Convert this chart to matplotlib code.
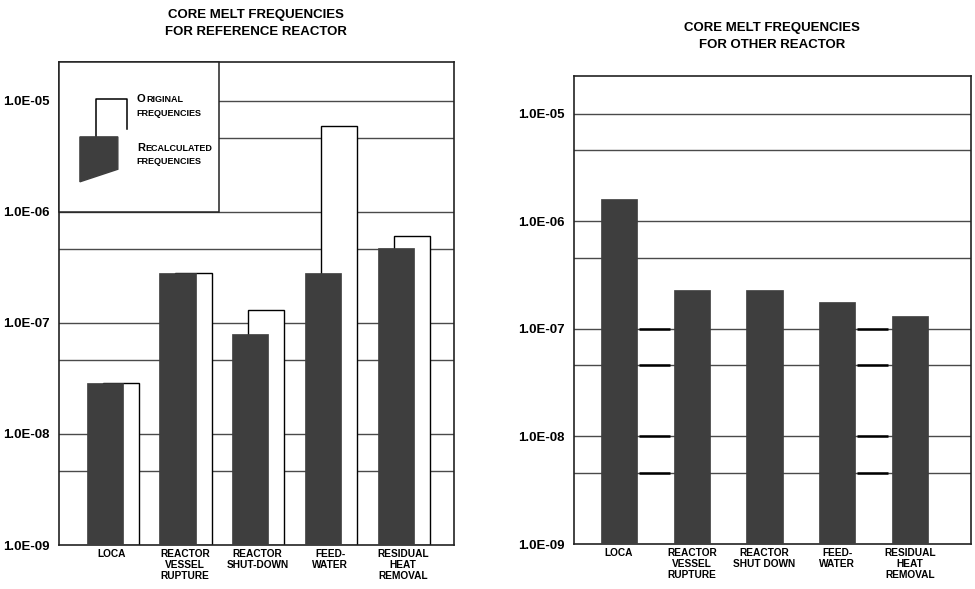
import matplotlib
matplotlib.use("Agg")
import matplotlib.pyplot as plt
import matplotlib.transforms as mtransforms
from matplotlib.patches import Polygon, Rectangle
from matplotlib.ticker import NullLocator
import numpy as np

# -----------------------------
# Data
# -----------------------------
labels_ref = ["LOCA", "REACTOR\nVESSEL\nRUPTURE", "REACTOR\nSHUT-DOWN",
              "FEED-\nWATER", "RESIDUAL\nHEAT\nREMOVAL"]
labels_other = ["LOCA", "REACTOR\nVESSEL\nRUPTURE", "REACTOR\nSHUT DOWN",
                "FEED-\nWATER", "RESIDUAL\nHEAT\nREMOVAL"]

recalculated_ref = [2.75e-8, 2.8e-7, 7.9e-8, 2.8e-7, 4.7e-7]
original_ref = [2.8e-8, 2.8e-7, 1.3e-7, 5.9e-6, 6.0e-7]
other_reactor = [1.6e-6, 2.3e-7, 2.3e-7, 1.75e-7, 1.3e-7]

decade_ticks = [1e-9, 1e-8, 1e-7, 1e-6, 1e-5]
decade_labels = ["1.0E-09", "1.0E-08", "1.0E-07", "1.0E-06", "1.0E-05"]
mid_grid = [4.6e-9, 4.6e-8, 4.6e-7, 4.6e-6]

# -----------------------------
# Style
# -----------------------------
plt.rcParams["font.family"] = ["Liberation Sans", "DejaVu Sans"]
plt.rcParams["font.weight"] = "bold"
DARK = "#3e3e3e"
GRID = "#4a4a4a"
BAR_W = 0.5
OFFSET = 0.22
YTOP = 10 ** -4.65


def setup_axes(ax, labels, tick_shift):
    ax.set_yscale("log")
    ax.set_ylim(1e-9, YTOP)
    ax.set_xlim(-0.63, 4.8)
    ax.yaxis.set_minor_locator(NullLocator())
    ax.set_yticks(decade_ticks)
    ax.set_yticklabels(decade_labels, fontsize=9.5)
    ax.set_xticks(np.arange(len(labels)) + tick_shift)
    ax.set_xticklabels(labels, fontsize=7.3, linespacing=1.1)
    ax.tick_params(axis="y", length=0, pad=7)
    ax.tick_params(axis="x", length=0, pad=3)
    for sp in ax.spines.values():
        sp.set_linewidth(1.2)
        sp.set_color("#222222")
    for g in decade_ticks[1:] + mid_grid:
        ax.axhline(g, color=GRID, lw=1.0, zorder=1)


def small_caps(ax, x, y, word, big=8, small=6.5):
    t = ax.text(x, y, word[0], transform=ax.transAxes, fontsize=big,
                va="bottom", ha="left", zorder=6)
    ax.annotate(word[1:], xy=(1, 0), xycoords=t, xytext=(0.3, 0),
                textcoords="offset points", fontsize=small,
                va="bottom", ha="left", zorder=6)


fig = plt.figure(figsize=(9.75, 5.89), dpi=100)

# -----------------------------
# Left: reference reactor
# -----------------------------
ax1 = fig.add_axes([0.0605, 0.0747, 0.4051, 0.820])
setup_axes(ax1, labels_ref, 0.1)
x = np.arange(len(labels_ref))
ax1.bar(x + OFFSET, original_ref, width=BAR_W, bottom=1e-9, color="white",
        edgecolor="black", linewidth=1.0, zorder=2)
ax1.bar(x, recalculated_ref, width=BAR_W, bottom=1e-9, color=DARK,
        edgecolor=DARK, linewidth=0.5, zorder=3)

# legend box in the upper left corner
blend = mtransforms.blended_transform_factory(ax1.transAxes, ax1.transData)
ax1.add_patch(Rectangle((0, 1e-6), 0.405, YTOP - 1e-6, transform=blend,
                        facecolor="white", edgecolor="#222222", lw=1.1,
                        zorder=4, clip_on=False))
ax1.plot([0.094, 0.094, 0.172, 0.172], [0.845, 0.923, 0.923, 0.861],
         transform=ax1.transAxes, color="black", lw=1.1, zorder=5)
ax1.add_patch(Polygon([[0.053, 0.845], [0.149, 0.845], [0.149, 0.778],
                       [0.053, 0.752]], closed=True, transform=ax1.transAxes,
                      facecolor=DARK, edgecolor=DARK, zorder=5))
small_caps(ax1, 0.197, 0.913, "ORIGINAL")
ax1.text(0.197, 0.894, "FREQUENCIES", transform=ax1.transAxes, fontsize=6.5,
         va="center", ha="left", zorder=6)
small_caps(ax1, 0.197, 0.812, "RECALCULATED")
ax1.text(0.197, 0.793, "FREQUENCIES", transform=ax1.transAxes, fontsize=6.5,
         va="center", ha="left", zorder=6)

fig.text(0.2626, 0.960, "CORE MELT FREQUENCIES\nFOR REFERENCE REACTOR",
         ha="center", va="center", fontsize=9.5, linespacing=1.6)

# -----------------------------
# Right: other reactor
# -----------------------------
ax2 = fig.add_axes([0.5887, 0.0764, 0.4072, 0.7946])
setup_axes(ax2, labels_other, 0.0)
ax2.set_xlim(-0.62, 4.84)
ax2.bar(x, other_reactor, width=BAR_W, bottom=1e-9, color=DARK,
        edgecolor=DARK, linewidth=0.5, zorder=3)
# heavier grid segments in two of the gaps between bars
for gap in [0, 3]:
    ax2.hlines([1e-7, 4.6e-8, 1e-8, 4.6e-9], gap + BAR_W / 2 + 0.02,
               gap + 1 - BAR_W / 2 - 0.05, color="black", lw=1.8, zorder=2)

fig.text(0.792, 0.938, "CORE MELT FREQUENCIES\nFOR OTHER REACTOR",
         ha="center", va="center", fontsize=9.5, linespacing=1.6)

fig.savefig("out.png", dpi=100, facecolor="white")
